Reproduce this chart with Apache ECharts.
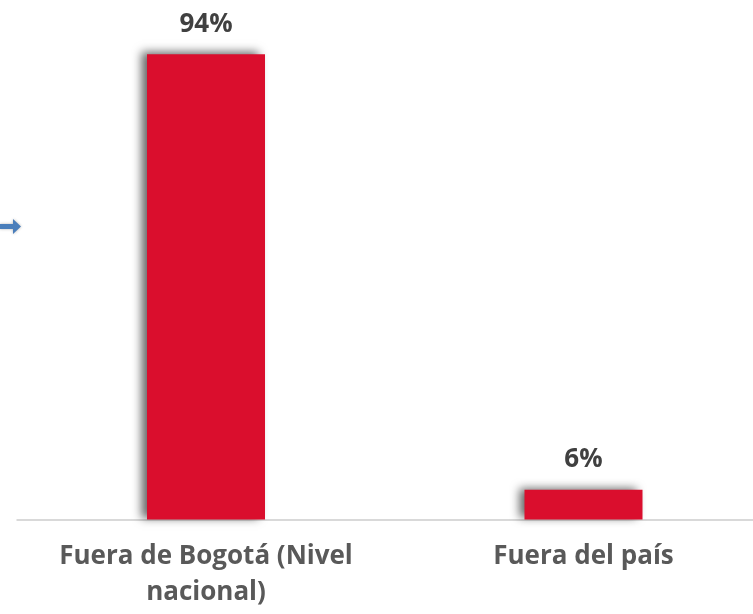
<!DOCTYPE html>
<html><head><meta charset="utf-8">
<script src="https://cdn.jsdelivr.net/npm/echarts@6/dist/echarts.min.js"></script>
<style>html,body{margin:0;padding:0;background:#fff}#c{width:753px;height:614px}</style>
</head><body><div id="c"></div>
<script>
var categories = ['Fuera de Bogotá (Nivel\nnacional)', 'Fuera del país'];
var values = [94, 6];
var positions = [0, 1];

var chart = echarts.init(document.getElementById('c'));
chart.setOption({
  animation: false,
  grid: {left: 17.25, right: 0, top: 24.5, bottom: 94.5, containLabel: false},
  xAxis: {
    type: 'value', min: -0.5, max: 1.449,
    splitLine: {show: false},
    axisLine: {show: true, onZero: false, lineStyle: {color: '#d9d9d9', width: 2}},
    axisTick: {show: false},
    axisLabel: {
      customValues: positions,
      formatter: function (v) { return categories[Math.round(v)]; },
      color: '#595959', fontSize: 26, fontWeight: 'bold', fontFamily: 'Open Sans', margin: 19, lineHeight: 36, align: 'center'
    }
  },
  yAxis: {type: 'value', min: 0, max: 100, show: false, splitLine: {show: false}},
  series: [{
    type: 'bar', data: positions.map(function (p, i) { return [p, values[i]]; }), barWidth: 118,
    itemStyle: {color: '#DA0E2D', shadowColor: 'rgba(0,0,0,0.6)', shadowBlur: 9, shadowOffsetX: -6, shadowOffsetY: -2},
    label: {show: true, position: 'top', distance: 17, formatter: function (p) { return p.value[1] + '%'; }, color: '#404040', fontSize: 26, fontWeight: 'bold', fontFamily: 'Open Sans'}
  }],
  graphic: [{
    type: 'polygon', left: 0, top: 219,
    shape: {points: [[0,5],[13,5],[13,0],[21,7.5],[13,15],[13,10],[0,10]]},
    style: {fill: '#4A7EBB', shadowColor: 'rgba(0,0,0,0.3)', shadowBlur: 3}
  }]
});
</script></body></html>
